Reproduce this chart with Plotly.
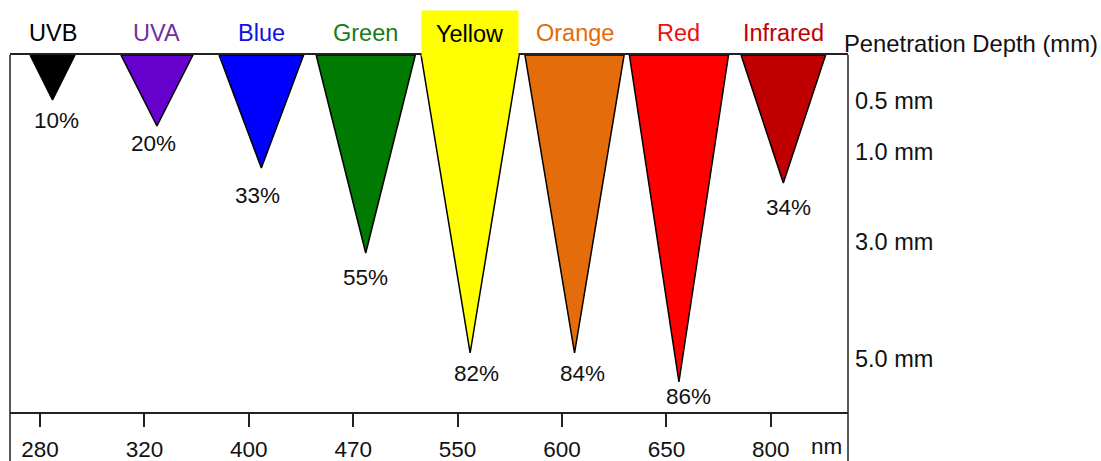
import plotly.graph_objects as go

# ---- data ----
bands = ["UVB", "UVA", "Blue", "Green", "Yellow", "Orange", "Red", "Infrared"]
wavelengths_nm = ["280", "320", "400", "470", "550", "600", "650", "800"]
absorbed_pct = [10, 20, 33, 55, 82, 84, 86, 34]
# tip depth in schematic depth units (top of box = 0)
tip_depth = [0.45, 0.71, 1.13, 1.98, 2.98, 2.98, 3.27, 1.28]
depth_tick_pos = [0.46, 0.97, 1.87, 3.04]
depth_tick_text = ["0.5 mm", "1.0 mm", "3.0 mm", "5.0 mm"]

# ---- styles ----
fill_colors = ["#000000", "#6600CC", "#0000FF", "#007A00", "#FFFF00", "#E46C0A", "#FF0000", "#C00000"]
label_colors = ["#000000", "#7030A0", "#1010E0", "#1A7A1A", "#000000", "#E36C09", "#EE1010", "#C00000"]
band_widths = [0.43, 0.69, 0.81, 0.95, 0.94, 0.95, 0.95, 0.81]  # top width of each wedge (axis units)
center_shift = 0.12
pct_dx = [4, -3, -4, 0, 6, 8, 10, 5]     # px offsets of percentage labels
pct_dy = [20, 17, 27, 24, 20, 20, 14, 24]

FONT = "Liberation Sans, Arial, sans-serif"
px_per_idx = 104.4
x_lo = -30 / px_per_idx
x_hi = x_lo + 838 / px_per_idx
y_bottom = 3.57

fig = go.Figure()
for i, b in enumerate(bands):
    c = i + center_shift
    w = band_widths[i]
    d = tip_depth[i]
    fig.add_trace(go.Scatter(
        x=[c - w / 2, c + w / 2, c, c - w / 2],
        y=[0, 0, d, 0],
        mode="lines", fill="toself", fillcolor=fill_colors[i],
        line=dict(color="#000000", width=1.5),
        hoverinfo="skip", showlegend=False,
    ))
    # percentage label under the tip
    fig.add_annotation(
        x=c, y=d, xref="x", yref="y", text=f"{absorbed_pct[i]}%",
        showarrow=False, xanchor="center", yanchor="middle",
        xshift=pct_dx[i], yshift=-pct_dy[i],
        font=dict(family=FONT, size=22.5, color="#111111"),
    )
    # band name above the box
    ann = dict(
        x=c, y=1.0616, xref="x", yref="paper", text=b, showarrow=False,
        xanchor="center", yanchor="middle",
        font=dict(family=FONT, size=23.5, color=label_colors[i]),
    )
    if b == "Yellow":
        ann.update(bgcolor="#FFFF00", width=96, height=45, borderpad=0)
    fig.add_annotation(**ann)

fig.add_annotation(
    x=0.993, y=1.031, xref="paper", yref="paper", text="Penetration Depth (mm)",
    showarrow=False, xanchor="left", yanchor="middle",
    font=dict(family=FONT, size=23.8, color="#111111"),
)
fig.add_annotation(
    x=0.974, y=-0.097, xref="paper", yref="paper", text="nm",
    showarrow=False, xanchor="center", yanchor="middle",
    font=dict(family=FONT, size=22.5, color="#111111"),
)

# side borders extending below the axis line
for xp in (0, 1):
    fig.add_shape(type="line", xref="paper", yref="paper", x0=xp, x1=xp, y0=-0.14, y1=1,
                  line=dict(color="#222222", width=1.5))

fig.update_xaxes(
    range=[x_lo, x_hi], tickvals=list(range(len(bands))), ticktext=wavelengths_nm,
    ticks="outside", ticklen=13, tickwidth=2, tickcolor="#222222",
    showline=True, linecolor="#222222", linewidth=2, mirror=True,
    showgrid=False, zeroline=False, ticklabelstandoff=3, automargin=False,
    tickfont=dict(family=FONT, size=22.5, color="#111111"),
)
fig.update_yaxes(
    range=[y_bottom, 0], side="right", tickvals=depth_tick_pos, ticktext=depth_tick_text,
    ticks="", showline=False, showgrid=False, zeroline=False, ticklabelstandoff=6,
    automargin=False,
    tickfont=dict(family=FONT, size=23.5, color="#111111"),
)
fig.update_layout(
    template="none",
    width=1101, height=461, margin=dict(l=10, r=253, t=55, b=49, autoexpand=False),
    plot_bgcolor="white", paper_bgcolor="white",
)
fig.write_html("out.html", config={"displayModeBar": False},
               post_script="document.body.style.margin='0';")
